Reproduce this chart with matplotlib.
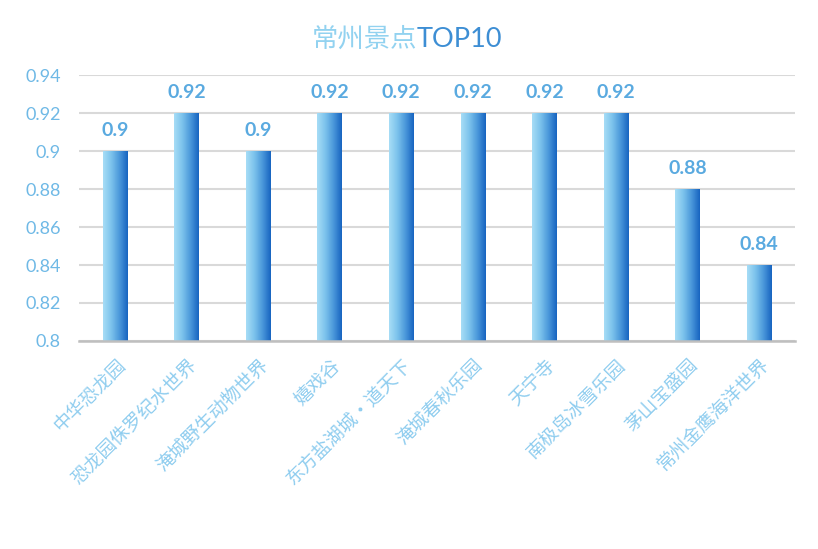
import matplotlib.pyplot as plt
import numpy as np
from matplotlib.colors import LinearSegmentedColormap

plt.rcParams['font.family'] = ['Noto Sans CJK SC', 'DejaVu Sans']

# data
spots = ['中华恐龙园', '恐龙园侏罗纪水世界', '淹城野生动物世界', '嬉戏谷', '东方盐湖城·道天下',
         '淹城春秋乐园', '天宁寺', '南极岛冰雪乐园', '茅山宝盛园', '常州金鹰海洋世界']
scores = [0.90, 0.92, 0.90, 0.92, 0.92, 0.92, 0.92, 0.92, 0.88, 0.84]
yticks = [0.80, 0.82, 0.84, 0.86, 0.88, 0.90, 0.92, 0.94]
ytick_labels = ['0.8', '0.82', '0.84', '0.86', '0.88', '0.9', '0.92', '0.94']

bar_cmap = LinearSegmentedColormap.from_list('bar', ['#a8ddf6', '#7cc3ec', '#4a97da', '#1663c0'])

fig = plt.figure(figsize=(8.18, 5.49), dpi=100)
ax = fig.add_axes([0.0966, 0.379, 0.8753, 0.484])

x = np.arange(len(spots))
bars = ax.bar(x, [s - 0.8 for s in scores], bottom=0.8, width=0.34, color='none', zorder=3)

# horizontal gradient inside each bar
grad = np.linspace(0, 1, 256).reshape(1, -1)
for b in bars:
    x0, y0 = b.get_x(), b.get_y()
    w, h = b.get_width(), b.get_height()
    im = ax.imshow(grad, cmap=bar_cmap, aspect='auto', extent=[x0, x0 + w, y0, y0 + h],
                   zorder=3, interpolation='bicubic')
    im.set_clip_path(b)

for xi, s in zip(x, scores):
    ax.annotate(f'{s:g}', (xi, s), xytext=(0, 9), textcoords='offset points',
                ha='center', va='bottom', fontsize=14, fontweight='bold',
                color='#5aaae0', family=['Lato', 'DejaVu Sans'], zorder=4)

ax.set_xlim(-0.5, len(spots) - 0.5)
ax.set_ylim(0.8, 0.94)
ax.set_yticks(yticks)
ax.set_yticklabels(ytick_labels, fontsize=13, color='#6fb9e6', family=['Lato', 'DejaVu Sans'])
ax.set_xticks(x)
ax.set_xticklabels(spots, rotation=45, ha='right', va='top', rotation_mode='anchor',
                   fontsize=13.5, color='#8fcdef')
ax.tick_params(axis='both', length=0)
ax.tick_params(axis='x', pad=10)
ax.tick_params(axis='y', pad=13)

ax.grid(axis='y', color='#d9d9d9', linewidth=1.5, zorder=0)
ax.set_axisbelow(True)
for side in ['top', 'right', 'left']:
    ax.spines[side].set_visible(False)
ax.spines['bottom'].set_color('#bfbfbf')
ax.spines['bottom'].set_linewidth(1.8)
ax.spines['bottom'].set_zorder(5)

# title in two tones (light to dark)
t1 = fig.text(0.5, 0.928, '常州景点', fontsize=19, color='#92d2f0', ha='right', va='center')
t2 = fig.text(0.5, 0.928, 'TOP10', fontsize=19.5, color='#3d8ed4', ha='left', va='center',
              family=['Lato', 'DejaVu Sans'])
fig.canvas.draw()
w1 = t1.get_window_extent().width
w2 = t2.get_window_extent().width
cx = 407 / 818
t1.set_x(cx - (w1 + w2) / 2 / 818 + w1 / 818)
t2.set_x(cx - (w1 + w2) / 2 / 818 + w1 / 818)

fig.savefig('out.png', dpi=100)
